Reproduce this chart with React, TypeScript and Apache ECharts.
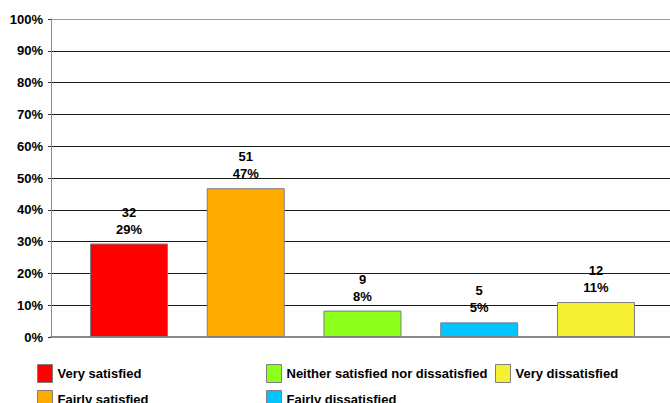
import React, { useEffect, useRef } from "react";
import * as echarts from "echarts";

const categories = [
  "Very satisfied",
  "Fairly satisfied",
  "Neither satisfied nor dissatisfied",
  "Fairly dissatisfied",
  "Very dissatisfied",
];
const counts = [32, 51, 9, 5, 12];
const percents = [29.4, 46.8, 8.3, 4.6, 11.0];
const colors = ["#FF0000", "#FFAA00", "#8CFF1A", "#00C3FF", "#F5F032"];
const yTicks = [0, 10, 20, 30, 40, 50, 60, 70, 80, 90, 100];

export default function App() {
  const ref = useRef<HTMLDivElement>(null);
  useEffect(() => {
    if (!ref.current) return;
    const chart = echarts.init(ref.current, undefined, { renderer: "svg" });
    const font = "Liberation Sans, Arial, sans-serif";
    const series = categories.map((name, i) => ({
      name,
      type: "bar",
      data: [[i, percents[i]]],
      barWidth: 78,
      barGap: "-100%",
      itemStyle: { color: colors[i], borderColor: "#7f7f7f", borderWidth: 1 },
      label: {
        show: true,
        position: "top",
        distance: 6,
        formatter: () => `${counts[i]}\n${Math.round(percents[i])}%`,
        color: "#000",
        fontFamily: font,
        fontWeight: "bold",
        fontSize: 13,
        lineHeight: 17,
      },
    }));
    const legendCommon = {
      orient: "vertical",
      top: 364,
      height: 60,
      itemWidth: 15,
      itemHeight: 18,
      itemGap: 7,
      icon: "rect",
      itemStyle: { borderColor: "#7f7f7f", borderWidth: 1 },
      textStyle: { color: "#000", fontFamily: font, fontWeight: "bold", fontSize: 13 },
      padding: 0,
    };
    chart.setOption({
      animation: false,
      backgroundColor: "#fff",
      grid: { left: 51, right: 0, top: 19, bottom: 66 },
      xAxis: {
        type: "value",
        min: -0.668,
        max: 4.634,
        axisLine: { show: true, onZero: false, lineStyle: { color: "#8a8a8a", width: 2 } },
        axisTick: { show: false },
        axisLabel: { show: false },
        splitLine: { show: false },
      },
      yAxis: {
        type: "value",
        min: yTicks[0],
        max: yTicks[yTicks.length - 1],
        interval: 10,
        axisLine: { show: true, onZero: false, lineStyle: { color: "#8a8a8a", width: 1 } },
        axisTick: { show: true, length: 3, lineStyle: { color: "#333" } },
        axisLabel: {
          formatter: "{value}%",
          color: "#000",
          fontFamily: font,
          fontWeight: "bold",
          fontSize: 13,
          margin: 8,
        },
        splitLine: {
          show: true,
          lineStyle: {
            color: ["#8a8a8a", "#1a1a1a", "#1a1a1a", "#1a1a1a", "#1a1a1a", "#1a1a1a", "#1a1a1a", "#1a1a1a", "#1a1a1a", "#1a1a1a", "#999"],
            width: 1,
          },
        },
      },
      legend: [
        { ...legendCommon, left: 37, data: [categories[0], categories[1]] },
        { ...legendCommon, left: 266, data: [categories[2], categories[3]] },
        { ...legendCommon, left: 495, data: [categories[4]] },
      ],
      series,
    });
    return () => chart.dispose();
  }, []);
  return <div ref={ref} style={{ width: 670, height: 403, position: "absolute", left: 0, top: 0 }} />;
}
